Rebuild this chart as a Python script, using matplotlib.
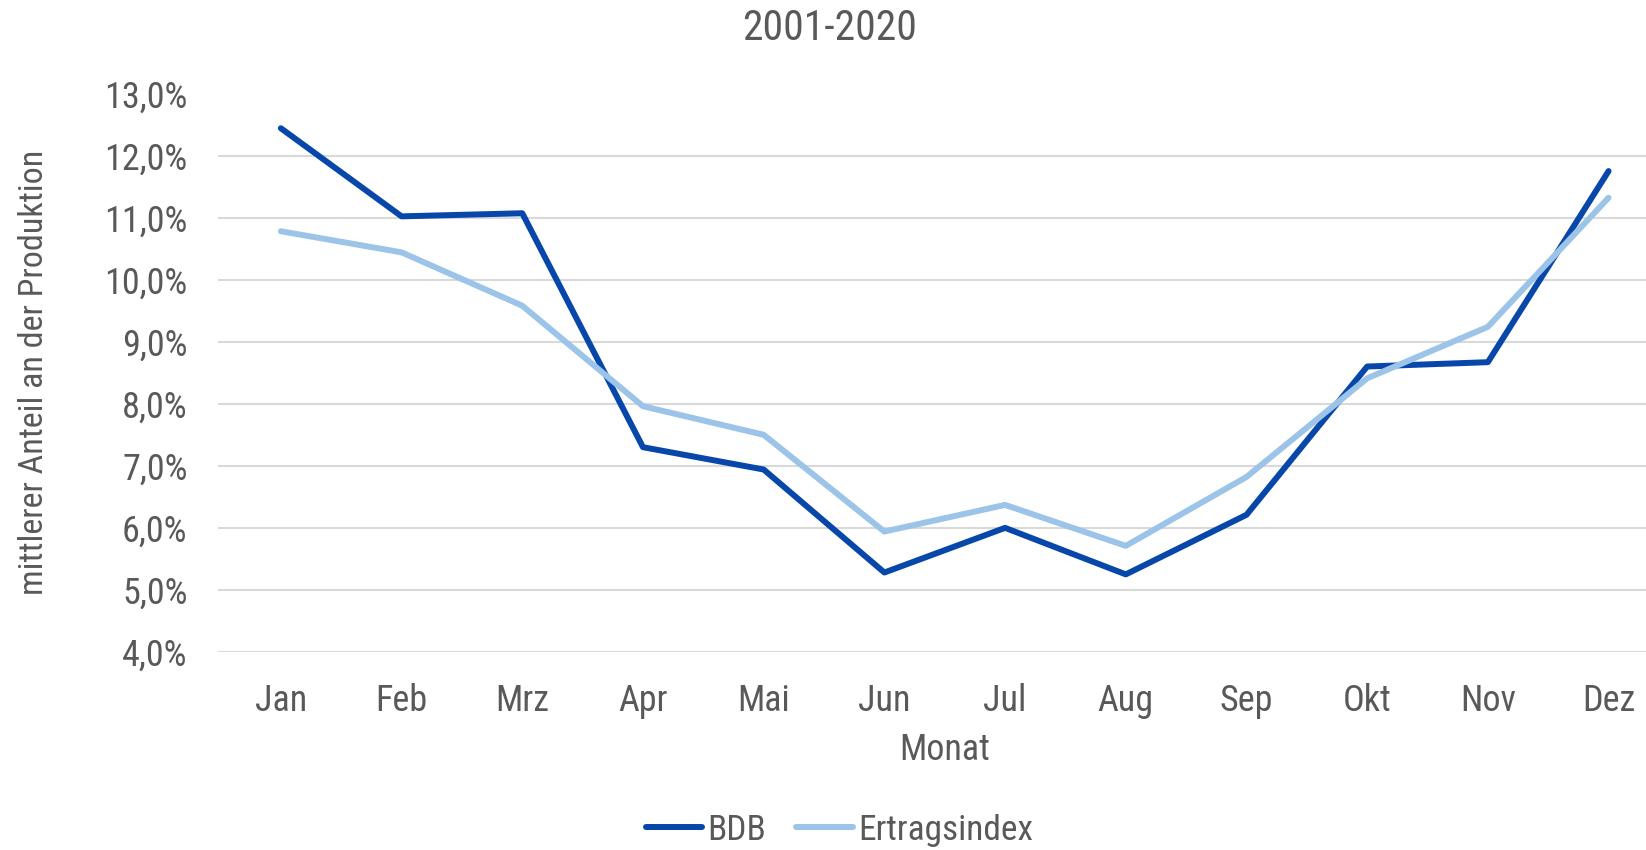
import matplotlib
matplotlib.use("Agg")
import matplotlib.pyplot as plt
from matplotlib.ticker import FuncFormatter, MultipleLocator

plt.rcParams['font.family'] = ['Roboto Condensed', 'Liberation Sans', 'DejaVu Sans']

# Daten (mittlerer Anteil an der Produktion, %)
monate = ['Jan', 'Feb', 'Mrz', 'Apr', 'Mai', 'Jun', 'Jul', 'Aug', 'Sep', 'Okt', 'Nov', 'Dez']
bdb = [12.44, 11.02, 11.07, 7.30, 6.94, 5.28, 6.00, 5.25, 6.21, 8.60, 8.67, 11.75]
ertragsindex = [10.78, 10.44, 9.58, 7.96, 7.50, 5.94, 6.37, 5.71, 6.82, 8.41, 9.24, 11.32]

txt = '#595959'

fig = plt.figure(figsize=(16.46, 8.5), dpi=100)
ax = fig.add_axes([0.1325, 0.233, 0.8675, 0.657])

x = range(len(monate))
ax.plot(x, bdb, color='#0747AA', lw=4.3, solid_capstyle='round', solid_joinstyle='round', label='BDB')
ax.plot(x, ertragsindex, color='#9CC3E8', lw=4.3, solid_capstyle='round', solid_joinstyle='round', label='Ertragsindex')

ax.set_ylim(4, 13)
ax.set_xlim(-0.52, 11.31)
ax.yaxis.set_major_locator(MultipleLocator(1))
ax.yaxis.set_major_formatter(FuncFormatter(lambda v, p: f"{v:.1f}%".replace('.', ',')))
ax.set_xticks(list(x))
ax.set_xticklabels(monate)
ax.grid(axis='y', color='#D9D9D9', lw=1.5)
ax.set_axisbelow(True)
for s in ax.spines.values():
    s.set_visible(False)
ax.tick_params(length=0, labelsize=26, colors=txt)
ax.tick_params(axis='x', pad=22)
ax.tick_params(axis='y', pad=22)

fig.text(0.504, 1 - 28 / 850, '2001-2020', fontsize=30, color=txt, ha='center', va='center')
ax.set_xlabel('Monat', fontsize=26, color=txt)
ax.xaxis.set_label_coords(0.509, -0.143)
ax.set_ylabel('mittlerer Anteil an der Produktion', fontsize=24.5, color=txt)
ax.yaxis.set_label_coords(-0.118, 0.5)

leg = fig.legend(loc='center', bbox_to_anchor=(0.51, 0.0235), ncol=2, frameon=False,
                 fontsize=25.5, handlelength=1.6, columnspacing=0.85, handletextpad=0.15)
for t in leg.get_texts():
    t.set_color(txt)

fig.savefig('out.png', dpi=100)
